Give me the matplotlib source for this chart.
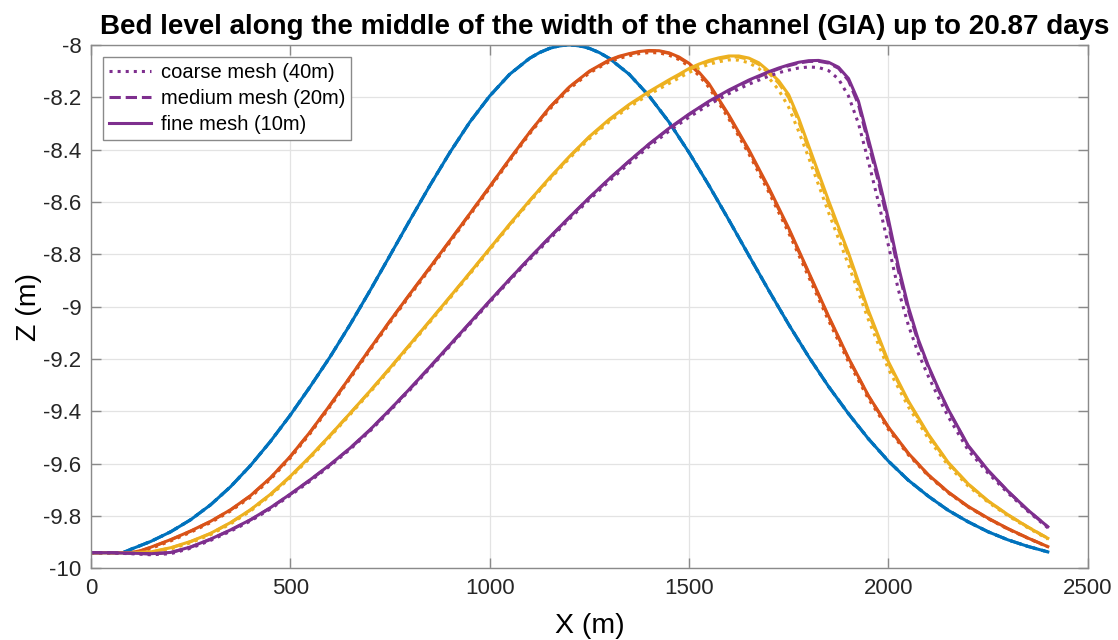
import numpy as np
import matplotlib
matplotlib.use("Agg")
import matplotlib.pyplot as plt
from matplotlib.ticker import FixedLocator

plt.rcParams["font.family"] = ["Liberation Sans", "DejaVu Sans"]
plt.rcParams["axes.unicode_minus"] = False

# stations along the channel axis (m); denser where the profile bends sharply
x_blue = np.r_[0, 50, 80, 100, 150:1101:50, 1125:1276:25, 1300:2401:50]
x_orange = np.r_[0, 50, 100, 125, 150:1301:50, 1325:1551:25, 1600:2401:50]
x_yellow = np.r_[0:1451:50, 1475:1851:25, 1900:2401:50]
x_purple = np.r_[0:1701:50, 1725:2151:25, 2200:2401:50]

# initial hump (same on all three meshes)
z_blue = [
    -9.940, -9.940, -9.940, -9.927, -9.897, -9.860, -9.814, -9.757, -9.688, -9.607,
    -9.515, -9.414, -9.305, -9.191, -9.068, -8.938, -8.804, -8.669, -8.537, -8.411,
    -8.295, -8.195, -8.112, -8.051, -8.029, -8.013, -8.003, -8.000, -8.003, -8.013,
    -8.029, -8.051, -8.112, -8.195, -8.295, -8.411, -8.537, -8.669, -8.804, -8.938,
    -9.068, -9.191, -9.305, -9.409, -9.505, -9.590, -9.663, -9.724, -9.778, -9.822,
    -9.860, -9.891, -9.916, -9.937,
]

z_orange_fine = [
    -9.940, -9.940, -9.940, -9.932, -9.919, -9.890, -9.857, -9.820, -9.776, -9.722,
    -9.654, -9.572, -9.478, -9.375, -9.268, -9.160, -9.054, -8.951, -8.850, -8.748,
    -8.645, -8.541, -8.436, -8.334, -8.239, -8.160, -8.100, -8.057, -8.043, -8.033,
    -8.025, -8.021, -8.022, -8.030, -8.046, -8.070, -8.104, -8.148, -8.268, -8.400,
    -8.545, -8.700, -8.868, -9.036, -9.196, -9.340, -9.460, -9.560, -9.642, -9.708,
    -9.763, -9.808, -9.848, -9.884, -9.917,
]
z_orange_medium = [
    -9.940, -9.940, -9.940, -9.933, -9.920, -9.891, -9.858, -9.821, -9.777, -9.723,
    -9.655, -9.573, -9.479, -9.376, -9.269, -9.161, -9.055, -8.952, -8.851, -8.749,
    -8.646, -8.542, -8.437, -8.335, -8.240, -8.161, -8.102, -8.059, -8.045, -8.035,
    -8.027, -8.023, -8.024, -8.032, -8.049, -8.073, -8.108, -8.152, -8.272, -8.405,
    -8.550, -8.705, -8.872, -9.040, -9.199, -9.342, -9.461, -9.561, -9.643, -9.709,
    -9.764, -9.809, -9.849, -9.884, -9.917,
]
z_orange_coarse = [
    -9.940, -9.940, -9.941, -9.936, -9.924, -9.895, -9.862, -9.825, -9.781, -9.728,
    -9.660, -9.578, -9.484, -9.381, -9.274, -9.166, -9.060, -8.957, -8.856, -8.754,
    -8.651, -8.547, -8.442, -8.340, -8.246, -8.167, -8.107, -8.064, -8.051, -8.041,
    -8.033, -8.029, -8.030, -8.039, -8.056, -8.081, -8.117, -8.162, -8.283, -8.416,
    -8.562, -8.718, -8.886, -9.053, -9.211, -9.352, -9.469, -9.566, -9.646, -9.711,
    -9.765, -9.810, -9.850, -9.885, -9.918,
]

z_yellow_fine = [
    -9.940, -9.940, -9.940, -9.937, -9.921, -9.897, -9.866, -9.825, -9.776, -9.717,
    -9.648, -9.572, -9.491, -9.407, -9.322, -9.234, -9.144, -9.054, -8.963, -8.871,
    -8.778, -8.685, -8.595, -8.508, -8.426, -8.350, -8.284, -8.227, -8.178, -8.133,
    -8.112, -8.090, -8.073, -8.059, -8.049, -8.042, -8.042, -8.050, -8.068, -8.100,
    -8.137, -8.190, -8.280, -8.385, -8.490, -8.595,
    -8.795, -9.015, -9.210, -9.360, -9.487, -9.595, -9.677, -9.742, -9.795, -9.842,
    -9.885,
]
z_yellow_medium = [
    -9.940, -9.940, -9.940, -9.938, -9.922, -9.898, -9.867, -9.826, -9.777, -9.718,
    -9.649, -9.573, -9.492, -9.408, -9.323, -9.235, -9.145, -9.055, -8.964, -8.872,
    -8.779, -8.686, -8.596, -8.510, -8.428, -8.352, -8.287, -8.230, -8.181, -8.137,
    -8.116, -8.094, -8.077, -8.063, -8.053, -8.046, -8.046, -8.055, -8.074, -8.107,
    -8.146, -8.201, -8.292, -8.397, -8.502, -8.606,
    -8.805, -9.023, -9.216, -9.364, -9.490, -9.597, -9.678, -9.743, -9.796, -9.842,
    -9.885,
]
z_yellow_coarse = [
    -9.940, -9.940, -9.941, -9.940, -9.926, -9.902, -9.871, -9.830, -9.781, -9.722,
    -9.653, -9.577, -9.496, -9.412, -9.327, -9.239, -9.149, -9.059, -8.968, -8.876,
    -8.783, -8.690, -8.600, -8.514, -8.433, -8.358, -8.293, -8.237, -8.189, -8.147,
    -8.126, -8.105, -8.088, -8.074, -8.064, -8.057, -8.058, -8.068, -8.090, -8.125,
    -8.172, -8.238, -8.330, -8.430, -8.535, -8.640,
    -8.840, -9.050, -9.238, -9.382, -9.503, -9.607, -9.685, -9.747, -9.799, -9.845,
    -9.888,
]

z_purple_fine = [
    -9.940, -9.940, -9.942, -9.944, -9.939, -9.918, -9.888, -9.853, -9.814, -9.768,
    -9.716, -9.661, -9.603, -9.540, -9.470, -9.393, -9.313, -9.230, -9.146, -9.062,
    -8.978, -8.895, -8.814, -8.735, -8.658, -8.583, -8.511, -8.443, -8.378, -8.318,
    -8.264, -8.215, -8.172, -8.134, -8.102,
    -8.088, -8.076, -8.066, -8.060, -8.059, -8.066, -8.085, -8.128, -8.215, -8.360,
    -8.505, -8.665, -8.845, -9.000, -9.125, -9.225, -9.312, -9.392,
    -9.530, -9.625, -9.705, -9.777, -9.841,
]
z_purple_medium = [
    -9.940, -9.940, -9.942, -9.945, -9.940, -9.919, -9.889, -9.854, -9.815, -9.769,
    -9.717, -9.662, -9.604, -9.541, -9.471, -9.394, -9.314, -9.231, -9.147, -9.063,
    -8.979, -8.896, -8.815, -8.736, -8.659, -8.584, -8.512, -8.444, -8.379, -8.320,
    -8.266, -8.217, -8.175, -8.137, -8.105,
    -8.091, -8.079, -8.069, -8.063, -8.062, -8.069, -8.089, -8.136, -8.228, -8.376,
    -8.522, -8.684, -8.862, -9.013, -9.135, -9.230, -9.316, -9.395,
    -9.533, -9.627, -9.706, -9.778, -9.842,
]
z_purple_coarse = [
    -9.940, -9.941, -9.944, -9.948, -9.944, -9.923, -9.893, -9.858, -9.819, -9.773,
    -9.721, -9.666, -9.608, -9.545, -9.475, -9.398, -9.318, -9.235, -9.151, -9.067,
    -8.983, -8.900, -8.820, -8.742, -8.665, -8.591, -8.520, -8.452, -8.388, -8.329,
    -8.276, -8.228, -8.186, -8.150, -8.119,
    -8.106, -8.096, -8.088, -8.084, -8.086, -8.098, -8.130, -8.195, -8.300, -8.445,
    -8.600, -8.765, -8.935, -9.070, -9.178, -9.265, -9.345, -9.420,
    -9.548, -9.636, -9.712, -9.782, -9.845,
]

line_colors = ["#0072BD", "#D95319", "#EDB120", "#7E2F8E"]
profiles = [
    (x_blue, [z_blue, z_blue, z_blue]),
    (x_orange, [z_orange_coarse, z_orange_medium, z_orange_fine]),
    (x_yellow, [z_yellow_coarse, z_yellow_medium, z_yellow_fine]),
    (x_purple, [z_purple_coarse, z_purple_medium, z_purple_fine]),
]
mesh_labels = ["coarse mesh (40m)", "medium mesh (20m)", "fine mesh (10m)"]
mesh_styles = [":", "--", "-"]

x_ticks = [0, 500, 1000, 1500, 2000, 2500]
y_ticks = [-10, -9.8, -9.6, -9.4, -9.2, -9, -8.8, -8.6, -8.4, -8.2, -8]
y_ticklabels = ["-10", "-9.8", "-9.6", "-9.4", "-9.2", "-9", "-8.8", "-8.6", "-8.4", "-8.2", "-8"]

fig = plt.figure(figsize=(11.18, 6.4), dpi=100)
ax = fig.add_axes([0.0814, 0.1119, 0.8915, 0.8178])

handles = []
for color, (xs, runs) in zip(line_colors, profiles):
    for z, style in zip(runs, mesh_styles):
        (ln,) = ax.plot(xs, z, style, color=color, linewidth=2.2)
        if color == line_colors[-1]:
            handles.append(ln)

ax.set_xlim(0, 2500)
ax.set_ylim(-10, -8)
ax.xaxis.set_major_locator(FixedLocator(x_ticks))
ax.yaxis.set_major_locator(FixedLocator(y_ticks))
ax.set_yticklabels(y_ticklabels)
ax.grid(True, color="#e3e3e3", linewidth=0.9)
ax.set_axisbelow(True)
for sp in ax.spines.values():
    sp.set_color("#8a8a8a")
    sp.set_linewidth(1.0)
ax.tick_params(direction="in", length=7, width=1.0, color="#8a8a8a",
               top=True, right=True, labelsize=16, labelcolor="#262626", pad=7)

ax.set_xlabel("X (m)", fontsize=20.5, labelpad=10)
ax.set_ylabel("Z (m)", fontsize=20.5, labelpad=1)
fig.text(0.541, 1 - 27 / 640, "Bed level along the middle of the width of the channel (GIA) up to 20.87 days",
         ha="center", va="center", fontsize=20, fontweight="bold")

leg = ax.legend(handles, mesh_labels, loc="upper left", bbox_to_anchor=(0.0117, 0.9776),
                fontsize=14.5, handlelength=2.1, handletextpad=0.5, labelspacing=0.35,
                borderpad=0.3, borderaxespad=0.0, fancybox=False, framealpha=1.0,
                edgecolor="#8a8a8a")
leg.get_frame().set_linewidth(1.0)

fig.savefig("out.png", dpi=100)
